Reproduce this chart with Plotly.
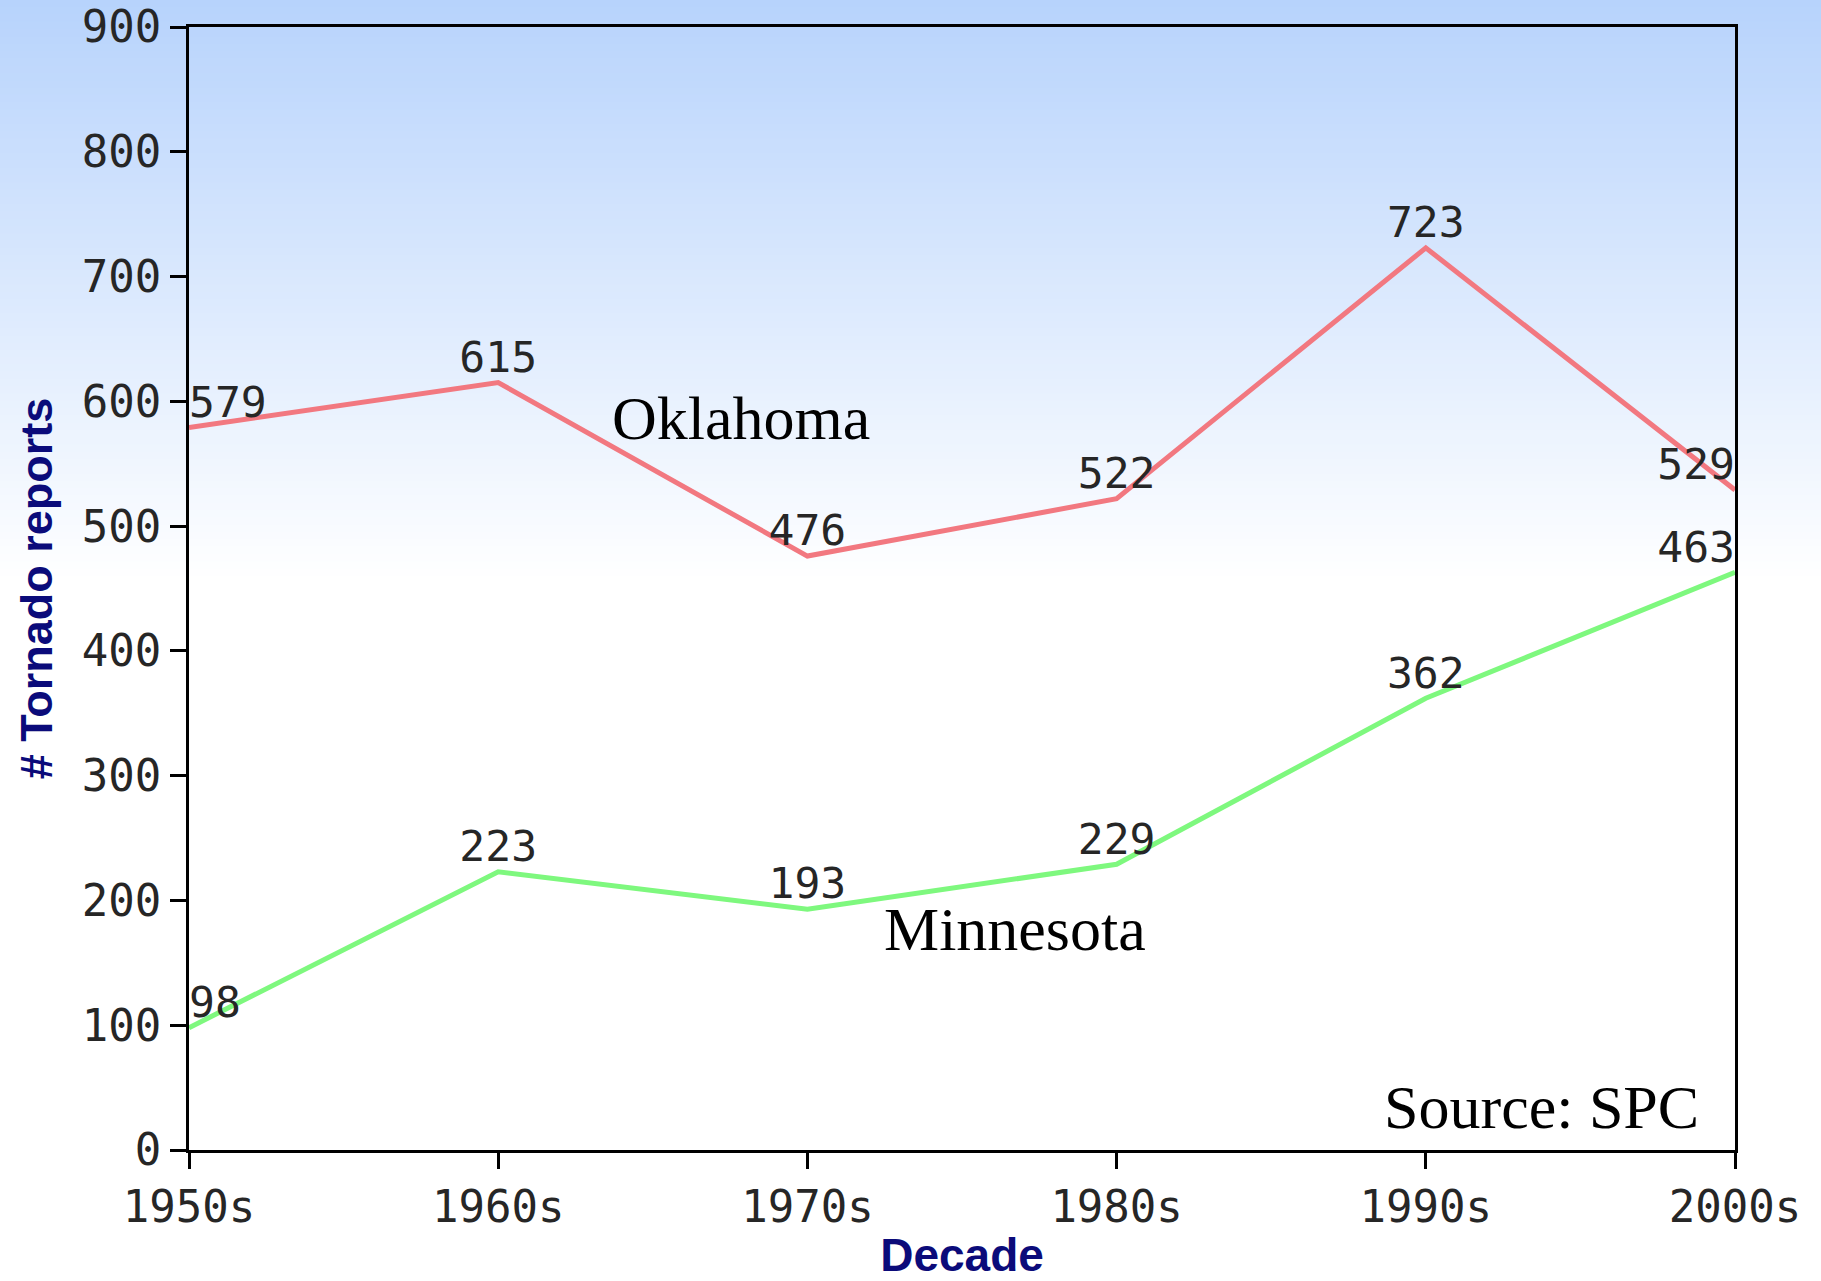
import plotly.graph_objects as go

decades = ["1950s", "1960s", "1970s", "1980s", "1990s", "2000s"]
oklahoma = [579, 615, 476, 522, 723, 529]
minnesota = [98, 223, 193, 229, 362, 463]
y_ticks = [0, 100, 200, 300, 400, 500, 600, 700, 800, 900]

W, H = 1821, 1281
ML, MR, MT, MB = 189, 86, 27, 131
PW, PH = W - ML - MR, H - MT - MB

mono = "DejaVu Sans Mono, monospace"
title_font = "Liberation Sans, Arial, sans-serif"
serif = "Liberation Serif, Times New Roman, serif"
navy = "#0b0b7a"
label_color = "#262626"

positions = ["top right"] + ["top center"] * (len(decades) - 2) + ["top left"]

fig = go.Figure()
fig.add_trace(go.Scatter(
    x=decades, y=oklahoma, mode="lines+text", name="Oklahoma",
    line=dict(color="#f27880", width=5),
    text=[str(v) for v in oklahoma], textposition=positions,
    textfont=dict(family=mono, size=43, color=label_color),
    cliponaxis=False, showlegend=False, hoverinfo="skip",
))
fig.add_trace(go.Scatter(
    x=decades, y=minnesota, mode="lines+text", name="Minnesota",
    line=dict(color="#7ef87e", width=5),
    text=[str(v) for v in minnesota], textposition=positions,
    textfont=dict(family=mono, size=43, color=label_color),
    cliponaxis=False, showlegend=False, hoverinfo="skip",
))

# background gradient (light blue at top fading to white)
shapes = []
top_c = (183, 211, 252)
fade_px = 583
n = 80
x0p = -ML / PW
x1p = 1 + MR / PW
for i in range(n):
    ya = i * fade_px / n
    yb = (i + 1) * fade_px / n + 1
    f = (i + 0.5) / n
    c = tuple(round(top_c[k] + (255 - top_c[k]) * f) for k in range(3))
    shapes.append(dict(
        type="rect", xref="paper", yref="paper", layer="below",
        x0=x0p, x1=x1p,
        y0=1 - (yb - MT) / PH, y1=1 - (ya - MT) / PH,
        line=dict(width=0), fillcolor="rgb(%d,%d,%d)" % c,
    ))

axis_common = dict(
    showline=True, linecolor="black", linewidth=3, mirror=True,
    ticks="outside", ticklen=16, tickwidth=3, tickcolor="black",
    showgrid=False, zeroline=False,
    tickfont=dict(family=mono, size=44, color=label_color),
)

fig.update_layout(
    width=W, height=H,
    margin=dict(l=ML, r=MR, t=MT, b=MB, autoexpand=False),
    paper_bgcolor="white", plot_bgcolor="rgba(0,0,0,0)",
    shapes=shapes,
    xaxis=dict(
        type="category", range=[0, len(decades) - 1],
        title=dict(text="Decade", font=dict(family=title_font, size=46, color=navy, weight="bold"), standoff=16),
        automargin=False, **axis_common,
    ),
    yaxis=dict(
        range=[0, 900], tickvals=y_ticks, ticktext=[str(v) for v in y_ticks],
        title=dict(text="# Tornado reports", font=dict(family=title_font, size=45, color=navy, weight="bold"), standoff=15),
        automargin=False, **axis_common,
    ),
    annotations=[
        dict(text="Oklahoma", xref="paper", yref="paper", x=0.357, y=0.652,
             xanchor="center", yanchor="middle", showarrow=False,
             font=dict(family=serif, size=62, color="black")),
        dict(text="Minnesota", xref="paper", yref="paper", x=0.534, y=0.197,
             xanchor="center", yanchor="middle", showarrow=False,
             font=dict(family=serif, size=62, color="black")),
        dict(text="Source: SPC", xref="paper", yref="paper", x=0.978, y=0.038,
             xanchor="right", yanchor="middle", showarrow=False,
             font=dict(family=serif, size=62, color="black")),
    ],
)

fig.write_html(
    "out.html",
    config={"displayModeBar": False},
    post_script="document.body.style.margin='0';document.body.style.overflow='hidden';",
)
